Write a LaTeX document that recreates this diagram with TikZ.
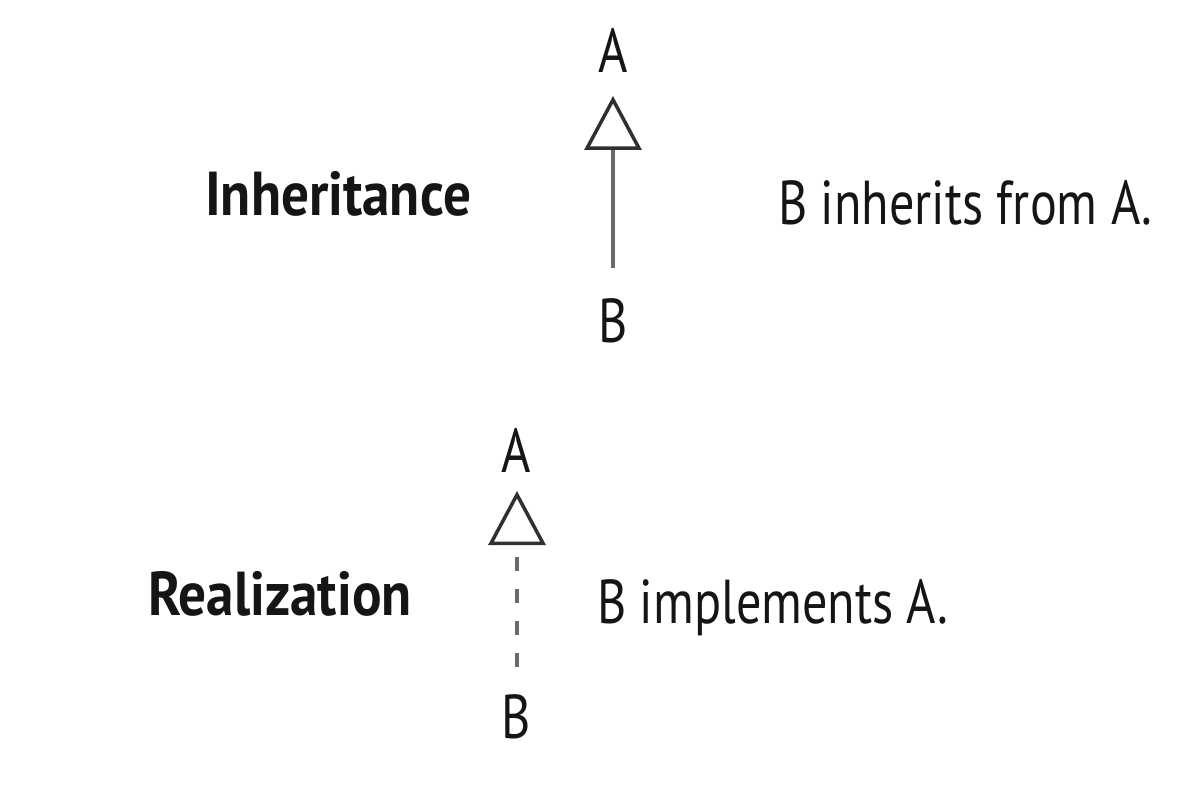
\documentclass[tikz,border=0pt]{standalone}
\usepackage{fontspec}
\setmainfont{PT Sans}[FakeStretch=0.81]
\newfontfamily\titlefont{PT Sans}[FakeStretch=0.89]
\usetikzlibrary{arrows.meta}
\definecolor{txt}{HTML}{151515}
\definecolor{tri}{HTML}{303030}
\definecolor{ln}{HTML}{6A6A6A}
\begin{document}
\begin{tikzpicture}[x=1pt,y=-1pt,
  lbl/.style={inner sep=0pt,text=txt,font=\fontsize{62}{70}\selectfont},
  title/.style={lbl,font=\titlefont\fontsize{62}{70}\selectfont\bfseries},
  rel/.style={draw=ln,line width=3.5pt,
    -{Triangle[open,length=54pt,width=57pt,line width=3.5pt,color=tri]}},
  reldash/.style={rel,dash pattern=on 14pt off 18pt}]
\useasboundingbox[fill=white] (0,0) rectangle (1204,786);
% Inheritance
\node[lbl,anchor=base] (a1) at (613,73) {A};
\node[lbl,anchor=base] (b1) at (613,342) {B};
\coordinate (t1) at (613,96);
\coordinate (s1) at (613,268);
\draw[rel] (s1) -- (t1);
\node[title,anchor=base west] (inh) at (205,216) {Inheritance};
\node[lbl,anchor=base west] (inhd) at (778,225) {B inherits from A.};
% Realization
\node[lbl,anchor=base] (a2) at (516,472) {A};
\node[lbl,anchor=base] (b2) at (516,738) {B};
\coordinate (t2) at (517,491);
\coordinate (s2) at (517,667);
\draw[reldash] (s2) -- (t2);
\node[title,anchor=base west] (rea) at (148,615) {Realization};
\node[lbl,anchor=base west] (read) at (597,623) {B implements A.};
\end{tikzpicture}
\end{document}
